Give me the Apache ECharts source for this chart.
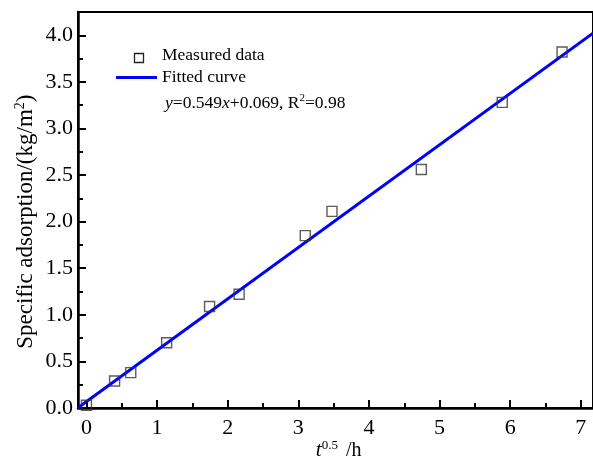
<!DOCTYPE html>
<html>
<head>
<meta charset="utf-8">
<script src="https://cdn.jsdelivr.net/npm/echarts@6/dist/echarts.min.js"></script>
<style>
  html, body { margin: 0; padding: 0; background: #fff; }
  #chart { width: 593px; height: 467px; }
</style>
</head>
<body>
<div id="chart"></div>
<script>
// Measured specific adsorption against square root of time
const tSqrt = [0.00, 0.40, 0.63, 1.14, 1.75, 2.17, 3.11, 3.49, 4.76, 5.91, 6.76];
const adsorption = [0.03, 0.29, 0.38, 0.70, 1.09, 1.22, 1.85, 2.11, 2.56, 3.28, 3.82];

// Linear fit as stated in the annotation
const fitSlope = 0.549;
const fitIntercept = 0.069;
const fitR2 = 0.98;

// Plot ranges and tick ranges
const xRange = [-0.12, 7.2];
const yRange = [0, 4.25];
const xTickRange = [0, 7];
const yTickRange = [0, 4];

const fitLine = xRange.map(x => [x, fitSlope * x + fitIntercept]);

const FONT = '"Liberation Serif", "Times New Roman", serif';
const TICK_FONT = 22;

// Layout: plot frame, and the tick-carrying axes aligned to it
const W = 593, H = 467;
const plotLeft = 78, plotRight = 595, plotTop = 12, plotBottom = 408;
const pxPerX = (plotRight - plotLeft) / (xRange[1] - xRange[0]);
const pxPerY = (plotBottom - plotTop) / (yRange[1] - yRange[0]);
const xTickLeft = plotLeft + (xTickRange[0] - xRange[0]) * pxPerX;
const xTickRight = plotLeft + (xTickRange[1] - xRange[0]) * pxPerX;
const yTickTop = plotBottom - (yTickRange[1] - yRange[0]) * pxPerY;

const tickStyle = { width: 2, color: '#000' };
const hidden = { show: false };

const chart = echarts.init(document.getElementById('chart'));

chart.setOption({
  animation: false,
  backgroundColor: '#fff',
  grid: [
    { left: plotLeft, right: W - plotRight, top: plotTop, bottom: H - plotBottom,
      show: true, borderColor: '#000', borderWidth: 2, containLabel: false },
    { left: xTickLeft, right: W - xTickRight, top: plotBottom - 10, bottom: H - plotBottom, containLabel: false },
    { left: plotLeft, width: 10, top: yTickTop, bottom: H - plotBottom, containLabel: false }
  ],
  xAxis: [
    {
      gridIndex: 0, type: 'value', min: xRange[0], max: xRange[1],
      axisLine: { show: true, onZero: false, lineStyle: { color: '#000', width: 2.5 } },
      axisTick: hidden, axisLabel: hidden, splitLine: hidden
    },
    {
      gridIndex: 1, type: 'value', min: xTickRange[0], max: xTickRange[1], interval: 1,
      axisLine: hidden,
      axisTick: { show: true, inside: true, length: 8, lineStyle: tickStyle },
      minorTick: { show: true, splitNumber: 2, length: 5, lineStyle: tickStyle },
      axisLabel: { show: true, margin: 9, fontFamily: FONT, fontSize: TICK_FONT, color: '#000' },
      splitLine: hidden,
      name: '{it|t}{sup|0.5} /h', nameLocation: 'middle', nameGap: 31, nameMoveOverlap: false,
      nameTextStyle: {
        fontFamily: FONT, fontSize: 20, color: '#000', padding: [0, 0, 0, 10],
        rich: {
          it: { fontFamily: FONT, fontSize: 21, fontStyle: 'italic', color: '#000' },
          sup: { fontFamily: FONT, fontSize: 13, color: '#000', verticalAlign: 'top', padding: [0, 3, 10, 0] }
        }
      }
    },
    { gridIndex: 2, type: 'value', show: false }
  ],
  yAxis: [
    {
      gridIndex: 0, type: 'value', min: yRange[0], max: yRange[1],
      axisLine: { show: true, onZero: false, lineStyle: { color: '#000', width: 2.5 } },
      axisTick: hidden, axisLabel: hidden, splitLine: hidden
    },
    { gridIndex: 1, type: 'value', show: false },
    {
      gridIndex: 2, type: 'value', min: yTickRange[0], max: yTickRange[1], interval: 0.5,
      axisLine: hidden,
      axisTick: { show: true, inside: true, length: 8, lineStyle: tickStyle },
      minorTick: { show: true, splitNumber: 2, length: 5, lineStyle: tickStyle },
      axisLabel: {
        show: true, margin: 5, fontFamily: FONT, fontSize: TICK_FONT, color: '#000',
        formatter: v => v.toFixed(1)
      },
      splitLine: hidden,
      name: 'Specific adsorption/(kg/m{sup|2})', nameLocation: 'middle', nameGap: 40,
      nameTextStyle: {
        fontFamily: FONT, fontSize: 23, color: '#000',
        rich: {
          sup: { fontFamily: FONT, fontSize: 14, color: '#000', verticalAlign: 'top', padding: [0, 0, 11, 0] }
        }
      }
    }
  ],
  series: [
    {
      name: 'Fitted curve', type: 'line', xAxisIndex: 0, yAxisIndex: 0,
      data: fitLine, showSymbol: false, symbol: 'none',
      lineStyle: { color: '#0000ff', width: 3 }, z: 2, clip: true
    },
    {
      name: 'Measured data', type: 'scatter', xAxisIndex: 0, yAxisIndex: 0,
      data: tSqrt.map((x, i) => [x, adsorption[i]]),
      symbol: 'rect', symbolSize: 10,
      itemStyle: { color: 'rgba(255,255,255,0)', borderColor: '#333', borderWidth: 1.4 },
      z: 3
    }
  ],
  graphic: [
    {
      type: 'rect', left: 132, top: 51,
      shape: { width: 9, height: 9 },
      style: { fill: 'none', stroke: '#222', lineWidth: 1.3 }
    },
    {
      type: 'text', left: 162, top: 46,
      style: { text: 'Measured data', font: '17.5px ' + FONT, fill: '#000' }
    },
    {
      type: 'line',
      shape: { x1: 116, y1: 77.5, x2: 157, y2: 77.5 },
      style: { stroke: '#0000ff', lineWidth: 3 }
    },
    {
      type: 'text', left: 162, top: 68,
      style: { text: 'Fitted curve', font: '17.5px ' + FONT, fill: '#000' }
    },
    {
      type: 'text', left: 165, top: 93,
      style: {
        text: '{i|y}=' + fitSlope + '{i|x}+' + fitIntercept + ', R{s|2}=' + fitR2,
        font: '17.5px ' + FONT, fill: '#000',
        rich: {
          i: { font: 'italic 17.5px ' + FONT, fill: '#000' },
          s: { font: '11px ' + FONT, fill: '#000', verticalAlign: 'top', padding: [0, 0, 9, 0] }
        }
      }
    }
  ]
});
</script>
</body>
</html>
